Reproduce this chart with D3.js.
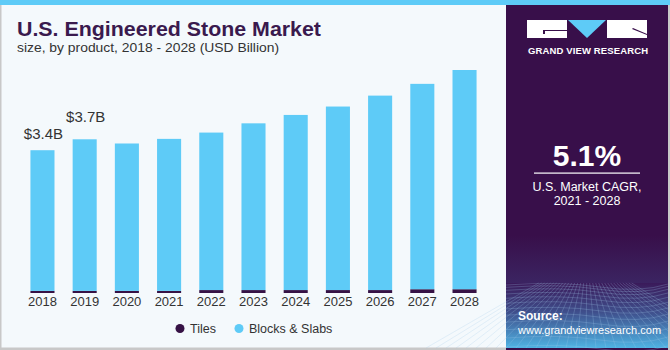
<!DOCTYPE html>
<html>
<head>
<meta charset="utf-8">
<script src="https://cdn.jsdelivr.net/npm/d3@7"></script>
<style>
  body { margin: 0; background: #fff; }
  svg { display: block; font-family: "Liberation Sans", Arial, sans-serif; }
</style>
</head>
<body>
<svg id="chart" width="670" height="350"></svg>
<script>
// data (USD Billion)
const years = ["2018", "2019", "2020", "2021", "2022", "2023", "2024", "2025", "2026", "2027", "2028"];
const tiles = [0.05, 0.05, 0.05, 0.05, 0.07, 0.07, 0.07, 0.07, 0.07, 0.09, 0.09];
const blocks = [3.35, 3.61, 3.51, 3.62, 3.75, 3.97, 4.17, 4.37, 4.63, 4.89, 5.22];
const seriesNames = ["Tiles", "Blocks & Slabs"];
const seriesColors = ["#361245", "#5ecbf7"];
const annotations = [{ year: "2018", text: "$3.4B" }, { year: "2019", text: "$3.7B" }];
const annotationGap = [11, 17];

const svg = d3.select("#chart");

// page background + frame
svg.append("rect").attr("width", 670).attr("height", 350).attr("fill", "#f4f9fc");
svg.append("rect").attr("x", 0).attr("y", 0).attr("width", 1.5).attr("height", 350).attr("fill", "#c8c8c8");
svg.append("rect").attr("x", 0).attr("y", 347.5).attr("width", 670).attr("height", 2.5).attr("fill", "#c8c8c8");

// titles
svg.append("text").attr("x", 17).attr("y", 36)
    .attr("font-size", 21).attr("font-weight", "bold").attr("fill", "#3a1a4e")
    .attr("textLength", 304).attr("lengthAdjust", "spacingAndGlyphs")
    .text("U.S. Engineered Stone Market");
svg.append("text").attr("x", 17).attr("y", 52)
    .attr("font-size", 13.5).attr("fill", "#333")
    .attr("textLength", 262).attr("lengthAdjust", "spacingAndGlyphs")
    .text("size, by product, 2018 - 2028 (USD Billion)");

// chart
let x = d3.scaleBand().domain(years).range([22, 485]).paddingInner(0.43).paddingOuter(0.2);
let y = d3.scaleLinear().domain([0, 5.31]).range([293, 70]);

let rows = years.map((yr, i) => ({ year: yr, Tiles: tiles[i], "Blocks & Slabs": blocks[i] }));
let stacked = d3.stack().keys(seriesNames)(rows);

let g = svg.append("g");
g.selectAll("g.series")
    .data(stacked)
    .enter().append("g")
    .attr("fill", (d, i) => seriesColors[i])
    .selectAll("rect")
    .data(d => d)
    .enter().append("rect")
    .attr("x", d => x(d.data.year))
    .attr("width", x.bandwidth())
    .attr("y", d => y(d[1]))
    .attr("height", d => y(d[0]) - y(d[1]));

// x axis labels
let xAxis = svg.append("g").attr("transform", "translate(0,293)")
    .call(d3.axisBottom(x).tickSize(0).tickPadding(4));
xAxis.select(".domain").remove();
xAxis.selectAll("text").attr("font-size", 13).attr("fill", "#333")
    .attr("font-family", "Liberation Sans, Arial, sans-serif");

// value labels
annotations.forEach((a, k) => {
    let i = years.indexOf(a.year);
    svg.append("text")
        .attr("x", x(a.year) + x.bandwidth() / 2 + 1)
        .attr("y", y(tiles[i] + blocks[i]) - annotationGap[k])
        .attr("text-anchor", "middle")
        .attr("font-size", 15).attr("fill", "#333")
        .text(a.text);
});

// legend
let legend = svg.append("g").attr("transform", "translate(180,333)");
let legX = [0, 59];
seriesNames.forEach((s, i) => {
    legend.append("circle").attr("cx", legX[i]).attr("cy", -4.5).attr("r", 4.5).attr("fill", seriesColors[i]);
    legend.append("text").attr("x", legX[i] + 10).attr("y", 0)
        .attr("font-size", 12.5).attr("fill", "#333").text(s);
});

// right panel
let defs = svg.append("defs");
let grad = defs.append("linearGradient").attr("id", "pgrad").attr("x1", 0).attr("y1", 0).attr("x2", 0).attr("y2", 1);
grad.append("stop").attr("offset", "0%").attr("stop-color", "#3a1a5a");
grad.append("stop").attr("offset", "45%").attr("stop-color", "#3f4f8c");
grad.append("stop").attr("offset", "100%").attr("stop-color", "#4fb3e3");
let grad2 = defs.append("linearGradient").attr("id", "pgrad2").attr("x1", 0).attr("y1", 0).attr("x2", 0).attr("y2", 1);
grad2.append("stop").attr("offset", "0%").attr("stop-color", "#380f4a");
grad2.append("stop").attr("offset", "100%").attr("stop-color", "#3b2462");

let panel = svg.append("g");
panel.append("rect").attr("x", 506).attr("y", 0).attr("width", 162).attr("height", 350).attr("fill", "#380f4a");
panel.append("rect").attr("x", 506).attr("y", 235).attr("width", 162).attr("height", 48).attr("fill", "url(#pgrad2)");
panel.append("rect").attr("x", 506).attr("y", 283).attr("width", 162).attr("height", 65).attr("fill", "url(#pgrad)");

// grid texture at the bottom
let gridG = panel.append("g").attr("stroke", "#9fc8ec").attr("stroke-opacity", 0.35).attr("stroke-width", 0.7).attr("fill", "none");
for (let k = 0; k < 14; k++) {
    let yy = 285 + k * k * 0.33 + k * 2;
    gridG.append("path").attr("d", `M506,${yy} Q560,${yy - 4} 600,${yy + 2} T668,${yy - 1}`);
}
for (let k = -8; k < 24; k++) {
    let xb = 506 + k * 10;
    gridG.append("path").attr("d", `M${587 + (xb - 587) * 0.3},283 L${xb},348`);
}

svg.append("rect").attr("x", 668).attr("y", 0).attr("width", 2).attr("height", 350).attr("fill", "#c8c8c8");
// top stripe
svg.append("rect").attr("x", 0).attr("y", 0).attr("width", 670).attr("height", 5).attr("fill", "#5ecbf7");

// logo
let logo = panel.append("g");
logo.append("rect").attr("x", 527).attr("y", 20).attr("width", 40).attr("height", 18).attr("fill", "#fff");
logo.append("path").attr("d", "M543,30 L567,30 L567,31 L545,31 L545,34 L543,34 Z").attr("fill", "#380f4a");
logo.append("path").attr("d", "M568,20 L606,20 L587,38 Z").attr("fill", "#5ecbf7");
logo.append("rect").attr("x", 607).attr("y", 20).attr("width", 40).attr("height", 18).attr("fill", "#fff");
logo.append("path").attr("d", "M633,28 L647,34 L647,35 L632,29 Z").attr("fill", "#380f4a");
logo.append("text").attr("x", 528).attr("y", 54)
    .attr("font-size", 9.5).attr("font-weight", "bold").attr("fill", "#fff")
    .attr("textLength", 120).attr("lengthAdjust", "spacing")
    .text("GRAND VIEW RESEARCH");

// CAGR
panel.append("text").attr("x", 587).attr("y", 166).attr("text-anchor", "middle")
    .attr("font-size", 30).attr("font-weight", "bold").attr("fill", "#fff").text("5.1%");
panel.append("rect").attr("x", 534).attr("y", 172.5).attr("width", 106).attr("height", 1.2).attr("fill", "#fff");
panel.append("text").attr("x", 587).attr("y", 191).attr("text-anchor", "middle")
    .attr("font-size", 12.5).attr("fill", "#fff").text("U.S. Market CAGR,");
panel.append("text").attr("x", 587).attr("y", 205).attr("text-anchor", "middle")
    .attr("font-size", 12.5).attr("fill", "#fff").text("2021 - 2028");

// source
panel.append("text").attr("x", 518).attr("y", 320)
    .attr("font-size", 12).attr("font-weight", "bold").attr("fill", "#fff").text("Source:");
panel.append("text").attr("x", 518).attr("y", 334)
    .attr("font-size", 11).attr("fill", "#fff")
    .text("www.grandviewresearch.com");
</script>
</body>
</html>
